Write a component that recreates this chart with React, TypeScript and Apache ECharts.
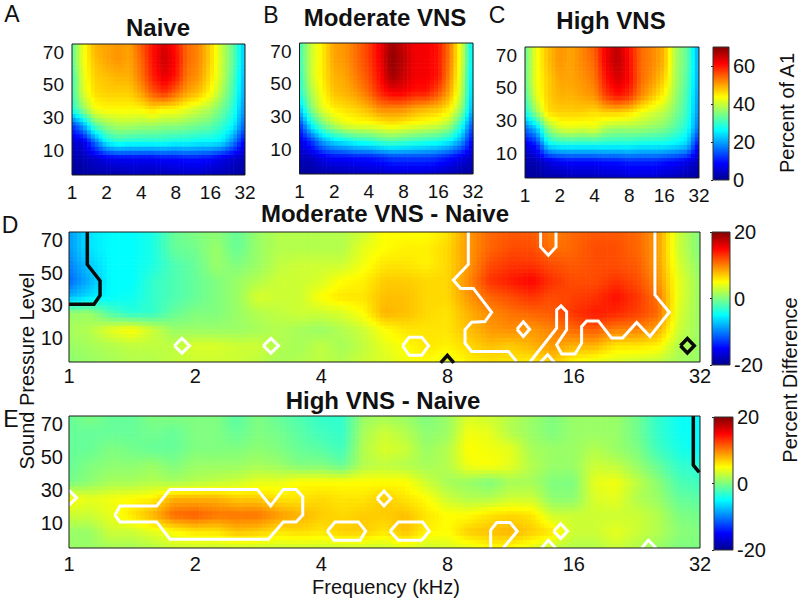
import React, { useEffect, useRef } from "react";
import * as echarts from "echarts";

const freqLabels = ["1", "2", "4", "8", "16", "32"];
const levelTicks = [10, 30, 50, 70];
const percentTicks = [0, 20, 40, 60];
const diffTicks = [-20, 0, 20];
const levels = [75, 65, 55, 45, 35, 25, 15, 5, -5];

const naive = [
  [32, 43, 49, 50, 51, 50, 55, 60, 64, 60, 54, 52, 47, 40, 33, 22],
  [32, 43, 48, 50, 51, 50, 54, 60, 65, 61, 54, 52, 47, 40, 33, 22],
  [30, 42, 47, 48, 49, 49, 53, 59, 63, 60, 53, 51, 46, 40, 32, 21],
  [30, 41, 46, 47, 47, 47, 50, 55, 58, 54, 50, 48, 44, 38, 31, 20],
  [28, 36, 43, 44, 44, 44, 44, 46, 44, 44, 42, 40, 38, 34, 29, 18],
  [12, 20, 32, 36, 38, 38, 37, 37, 36, 36, 35, 34, 33, 30, 26, 15],
  [5, 6, 16, 26, 29, 28, 28, 28, 28, 27, 27, 26, 26, 25, 18, 8],
  [2, 3, 5, 7, 8, 8, 8, 8, 9, 9, 10, 10, 9, 7, 5, 3],
  [1, 1, 2, 2, 2, 3, 3, 3, 3, 4, 4, 4, 3, 3, 2, 1],
];
const moderate = [
  [30, 40, 45, 50, 51, 54, 57, 62, 68, 65, 62, 62, 60, 53, 42, 24],
  [30, 40, 45, 50, 51, 54, 57, 62, 69, 66, 62, 62, 60, 53, 42, 24],
  [29, 40, 45, 49, 50, 53, 56, 61, 68, 65, 62, 62, 60, 52, 41, 23],
  [28, 38, 44, 48, 49, 51, 54, 59, 62, 62, 60, 60, 56, 50, 40, 22],
  [22, 35, 42, 45, 46, 47, 49, 52, 52, 52, 50, 49, 48, 45, 37, 20],
  [12, 26, 34, 39, 42, 43, 43, 44, 45, 44, 43, 42, 41, 38, 29, 14],
  [6, 12, 20, 24, 26, 28, 29, 31, 32, 31, 30, 29, 28, 26, 20, 8],
  [3, 4, 7, 9, 9, 10, 10, 11, 13, 13, 13, 13, 12, 10, 7, 4],
  [1, 1, 2, 2, 3, 3, 4, 4, 5, 5, 5, 5, 4, 3, 2, 1],
];
const high = [
  [33, 43, 48, 51, 50, 52, 55, 62, 66, 60, 54, 52, 49, 38, 33, 20],
  [33, 43, 48, 51, 50, 52, 54, 62, 66, 61, 54, 52, 49, 38, 33, 20],
  [33, 43, 47, 50, 50, 51, 53, 60, 64, 61, 54, 51, 47, 38, 32, 20],
  [31, 42, 47, 49, 49, 50, 51, 57, 60, 58, 52, 48, 44, 37, 31, 19],
  [27, 37, 46, 47, 47, 47, 46, 47, 47, 46, 43, 41, 39, 35, 30, 18],
  [16, 22, 36, 41, 42, 41, 42, 38, 37, 37, 37, 36, 35, 32, 28, 16],
  [6, 10, 25, 27, 27, 27, 27, 27, 27, 27, 26, 26, 26, 25, 23, 8],
  [2, 3, 6, 8, 9, 9, 9, 10, 10, 11, 11, 11, 10, 9, 7, 3],
  [1, 1, 2, 2, 3, 3, 3, 4, 4, 5, 5, 5, 4, 3, 2, 1],
];
const moderateDiff = [
  [-9, -6, -5, -5, -4, -1, 0, 0.5, -1, 1, 2, 2, 2, 2, 3, 5, 5, 5, 6, 9, 11, 11.5, 11.5, 10, 11, 11.5, 11.5, 11, 9, 3, 0],
  [-9, -6, -5, -5, -4, -1, -0.5, 1, -1, 1, 2, 2, 2, 2, 4, 5, 5.5, 5.5, 6.5, 9, 11, 12, 12, 10.5, 11, 12, 12, 11, 9, 3, 0],
  [-10, -7, -5, -5, -4, -2, -1, 1, 0, 1, 2.5, 3, 3, 3, 4.5, 6, 6, 5.5, 6.5, 9, 12, 13, 13, 12, 11.5, 12, 12, 11.5, 9, 3.5, 0.5],
  [-11, -8, -5, -5, -3, -2, -1, 0, 1, 2, 3, 3, 3.5, 5, 5.5, 7, 7, 6.5, 6.5, 9.5, 13, 14, 15, 13, 12, 12, 13, 12, 9.5, 4, 1],
  [-8, -6, -5, -4.5, -3, -2, -1, 0, 1, 3.5, 3, 3, 5, 6, 6, 7.5, 7.5, 6.5, 6.5, 9, 11, 12, 13, 12, 12.5, 13, 14.5, 13, 10.5, 4, 1],
  [1, 1, -2, -3.5, -3, -1, 0, 0, 1, 2, 2.5, 3, 3, 3.5, 5, 8, 7.5, 6.5, 6, 8, 9.5, 10.5, 11, 11.5, 13, 14, 13.5, 12.5, 11, 3.5, 1],
  [1.5, 2, 4, 5, 3, 1, 1, 1, 1, 1.5, 2, 1.5, 1, 2, 3, 5, 6, 6, 6, 7.5, 9, 9.5, 9, 10, 11, 11.5, 10, 10, 8.5, 3, 1],
  [1, 1.5, 2, 2.5, 2.5, 2.5, 3.5, 3.5, 3, 3, 2, 1.5, 2.5, 1.5, 2.5, 4, 5, 6, 5.5, 6.5, 7.5, 7, 8, 9, 8, 8, 6, 6, 5.5, 2, 1],
  [0.5, 1, 1.5, 2, 2, 2.5, 3, 3, 3, 2.5, 1.5, 2, 2.5, 2, 3, 3.5, 4.5, 5, 4, 5.5, 6, 6, 5.5, 7, 5, 4, 3.5, 3, 2.5, 1.5, 1],
];
const highDiff = [
  [-1, 0, -1, -1, 0, 0, 0, 0, -1.5, 0, -1, -2, -3, -3, 1, 1.5, 1, 0, 1, 3.5, 3, 2, 1, 0, 1, 1, 1, -0.5, -3, -4.5, -5],
  [-1, -1, -1, -1, -0.5, -1, 0, 0, -1, 0, -0.5, -1.5, -2.5, -3, 1.5, 3, 2, 0.5, 1, 4.5, 4, 2, 1, 0, 1, 1, 1, -0.5, -3, -4.5, -5],
  [-1, -1, 0, -0.5, -1, -1, 0, 0, 0, 0.5, 0, -1, -1.5, -2.5, 2, 3.5, 3, 1, 2, 5, 4.5, 4, 1.5, 1, 1, 2, 1, 0, -2.5, -4, -5],
  [-1, 0, 0.5, 0.5, 1, 0, 1, 1, 1, 1.5, 1, 0, 0, -1, 2, 2.5, 2, 1.5, 2, 4.5, 5, 4, 2, 1, 1, 3, 2.5, 1, -1, -3, -3.5],
  [-0.5, 0.5, 1.5, 1.5, 2, 1.5, 2, 2.5, 3, 4, 4, 5, 5, 5, 5, 5, 5, 3, 1.5, 1, 0, 1.5, 1.5, 0, 0, 4, 4.5, 2.5, 0.5, -2, -2.5],
  [5, 4, 4.5, 5, 5.5, 8, 8, 8, 7, 7, 6, 6, 6.5, 6, 6, 7, 6, 5, 3, 2, 2, 3, 3, 0.5, 0.5, 3.5, 4, 2, 1, -1, -1.5],
  [3, 3, 4, 6, 8, 11, 11.5, 10.5, 10.5, 10.5, 9, 8, 7, 6.5, 7, 7, 7.5, 6, 5, 5, 6, 6.5, 6, 3, 3, 3, 3, 3, 2, 0, -0.5],
  [1, 1, 3, 3, 4, 5, 6, 6, 7.5, 7, 6, 6.5, 6, 7, 7, 6, 7.5, 5.5, 5, 7, 7.5, 8, 7, 6, 3, 3, 4, 3, 2, 0.5, 0],
  [1, 1, 1.5, 1.5, 2, 3, 3, 3, 3, 3, 3, 3, 3, 3, 3, 3, 4, 3, 3.5, 4, 5, 5, 4, 2.5, 2, 2, 3, 2, 1, 0, 0],
];

type Pt = [number, number];
const dWhite: Pt[][] = [
  [[0.835, 5], [0.895, 9.5], [0.955, 5], [0.895, 0.5], [0.835, 5]],
  [[1.54, 5], [1.6, 9.5], [1.66, 5], [1.6, 0.5], [1.54, 5]],
  [[2.644, 5], [2.696, 10.3], [2.795, 10.3], [2.85, 5], [2.795, -0.9], [2.696, -0.9], [2.644, 5]],
  [[3.55, 15.2], [3.6, 19.7], [3.65, 15.2], [3.6, 10.7], [3.55, 15.2]],
  [[3.164, 75], [3.164, 55], [3.045, 45.4], [3.103, 40.3], [3.204, 40.3], [3.349, 25.6], [3.296, 19.9], [3.19, 19.5], [3.138, 14.8], [3.138, 6.6], [3.19, 1.5], [3.481, 1.5], [3.547, -4.6], [3.547, -5]],
  [[3.653, -5], [3.653, -4.6], [3.864, 15.8], [3.864, 27], [3.899, 29.5], [3.943, 26], [3.943, 14.8], [3.864, 5.6], [3.904, -0.1], [4.01, -0.1], [4.062, 6.6], [4.062, 16.8], [4.102, 20.3], [4.194, 20.3], [4.3, 9.7], [4.387, 9.7], [4.498, 19.3], [4.604, 10.7], [4.757, 25.6], [4.643, 36.2], [4.643, 75]],
  [[3.737, 75], [3.737, 65.8], [3.798, 60.7], [3.859, 65.8], [3.859, 75]],
  [[3.732, -5.6], [3.793, -0.5], [3.851, -5.6]],
];
const dBlack: Pt[][] = [
  [[0.145, 75], [0.145, 55], [0.246, 45], [0.246, 36], [0.198, 30.5], [0, 30.5]],
  [[2.945, -5.6], [2.998, -0.9], [3.05, -5.6]],
  [[4.845, 5], [4.9, 9.5], [4.955, 5], [4.9, 0.5], [4.845, 5]],
];
const eWhite: Pt[][] = [
  [[0.364, 14.9], [0.404, 20.5], [0.695, 20.5], [0.8, 30.5], [1.492, 30.5], [1.598, 20.5], [1.698, 30.5], [1.799, 30.5], [1.852, 26], [1.852, 14.9], [1.799, 10.8], [1.698, 10.8], [1.58, 0.3], [0.8, 0.3], [0.695, 10.8], [0.404, 10.8], [0.364, 14.9]],
  [[0, 30], [0.06, 25.4], [0, 21]],
  [[2.047, 5.2], [2.108, 10.8], [2.293, 10.8], [2.351, 5.2], [2.306, -0.3], [2.1, -0.3], [2.047, 5.2]],
  [[2.441, 25], [2.496, 29.5], [2.551, 25], [2.496, 20.5], [2.441, 25]],
  [[2.544, 5.2], [2.61, 10.8], [2.802, 10.8], [2.855, 5.2], [2.795, -0.3], [2.61, -0.3], [2.544, 5.2]],
  [[3.341, -5], [3.341, 5.8], [3.389, 10.4], [3.495, 10.4], [3.552, 5.2], [3.441, -5]],
  [[3.841, 5.2], [3.896, 9.7], [3.951, 5.2], [3.896, 0.7], [3.841, 5.2]],
  [[3.745, -5], [3.798, -0.3], [3.856, -5]],
  [[4.538, -5], [4.591, -0.3], [4.652, -5]],
];
const eBlack: Pt[][] = [[[4.947, 75], [4.947, 45.2], [4.994, 40.8]]];

const jetStops: [number, number[]][] = [
  [0, [0, 0, 143]],
  [0.125, [0, 0, 255]],
  [0.375, [0, 255, 255]],
  [0.625, [255, 255, 0]],
  [0.875, [255, 0, 0]],
  [1, [128, 0, 0]],
];
const rgb = (c: number[]) => `rgb(${c.map((v) => Math.round(v)).join(",")})`;
function jet(t: number) {
  const u = Math.max(0, Math.min(1, t));
  for (let i = 1; i < jetStops.length; i++) {
    if (u <= jetStops[i][0]) {
      const [a, ca] = jetStops[i - 1];
      const [b, cb] = jetStops[i];
      const f = (u - a) / (b - a);
      return rgb(ca.map((v, k) => v + (cb[k] - v) * f));
    }
  }
  return rgb([128, 0, 0]);
}

const FONT = "Liberation Sans, Arial, sans-serif";

const grids = [
  { left: 72, top: 44, width: 173, height: 131 },
  { left: 299.5, top: 43, width: 173.5, height: 131 },
  { left: 525, top: 47, width: 174, height: 131 },
  { left: 69, top: 232, width: 631, height: 130 },
  { left: 69, top: 416, width: 631, height: 132 },
  { left: 713, top: 47, width: 16, height: 133 },
  { left: 712, top: 232, width: 18, height: 133 },
  { left: 714, top: 417, width: 19, height: 133 },
];

const panels = [
  { m: naive, lo: 0, hi: 70, step: 1 / 3, cell: 4.3, font: 19, mx: 7.5, my: 8, white: [] as Pt[][], black: [] as Pt[][] },
  { m: moderate, lo: 0, hi: 70, step: 1 / 3, cell: 4.3, font: 19, mx: 7.5, my: 8, white: [], black: [] },
  { m: high, lo: 0, hi: 70, step: 1 / 3, cell: 4.3, font: 19, mx: 7.5, my: 8, white: [], black: [] },
  { m: moderateDiff, lo: -20, hi: 20, step: 1 / 6, cell: 4.2, font: 20, mx: 4, my: 6, white: dWhite, black: dBlack },
  { m: highDiff, lo: -20, hi: 20, step: 1 / 6, cell: 4.2, font: 20, mx: 6, my: 6, white: eWhite, black: eBlack },
];
const bars = [
  { lo: 0, hi: 70, ticks: percentTicks },
  { lo: -20, hi: 20, ticks: diffTicks },
  { lo: -20, hi: 20, ticks: diffTicks },
];

function buildOption() {
  const xAxis: any[] = [];
  const yAxis: any[] = [];
  const series: any[] = [];
  const labelStyle = { color: "#111", fontFamily: FONT };

  panels.forEach((p, idx) => {
    xAxis.push({
      type: "value", gridIndex: idx, min: 0, max: 5, interval: 1,
      axisLine: { show: false }, axisTick: { show: false }, splitLine: { show: false },
      axisLabel: { ...labelStyle, fontSize: p.font, margin: p.mx, formatter: (v: number) => freqLabels[Math.round(v)], showMinLabel: true, showMaxLabel: true },
    });
    yAxis.push({
      type: "value", gridIndex: idx, min: -5, max: 75,
      axisLine: { show: false }, axisTick: { show: false }, splitLine: { show: false },
      axisLabel: { ...labelStyle, fontSize: p.font, margin: p.my, customValues: levelTicks },
    });
    const cells: number[][] = [];
    for (let r = 0; r < levels.length - 1; r++) {
      for (let c = 0; c < p.m[0].length - 1; c++) {
        cells.push([c * p.step, levels[r + 1], (c + 1) * p.step, levels[r], p.m[r + 1][c], p.m[r + 1][c + 1], p.m[r][c], p.m[r][c + 1]]);
      }
    }
    series.push({
      type: "custom", xAxisIndex: idx, yAxisIndex: idx, silent: true, clip: true, z: 1,
      encode: { x: [0, 2], y: [1, 3] },
      data: cells,
      renderItem: (_: any, api: any) => {
        const a = api.coord([api.value(0), api.value(1)]);
        const b = api.coord([api.value(2), api.value(3)]);
        const v00 = api.value(4), v10 = api.value(5), v01 = api.value(6), v11 = api.value(7);
        const w = b[0] - a[0], h = a[1] - b[1];
        const nx = Math.max(1, Math.round(w / p.cell));
        const ny = Math.max(1, Math.round(h / p.cell));
        const children: any[] = [];
        for (let i = 0; i < nx; i++) {
          for (let j = 0; j < ny; j++) {
            const fx = (i + 0.5) / nx, fy = (j + 0.5) / ny;
            const v = (v00 * (1 - fx) + v10 * fx) * (1 - fy) + (v01 * (1 - fx) + v11 * fx) * fy;
            children.push({
              type: "rect",
              shape: { x: a[0] + (i * w) / nx - 0.3, y: a[1] - ((j + 1) * h) / ny - 0.3, width: w / nx + 0.6, height: h / ny + 0.6 },
              style: { fill: jet((v - p.lo) / (p.hi - p.lo)) },
            });
          }
        }
        return { type: "group", children };
      },
    });
    const addLines = (list: Pt[][], color: string, width: number) =>
      list.forEach((pts) =>
        series.push({
          type: "line", xAxisIndex: idx, yAxisIndex: idx, data: pts, showSymbol: false, silent: true, clip: true, z: 3,
          lineStyle: { color, width, join: "miter" },
        })
      );
    addLines(p.white, "#ffffff", 3);
    addLines(p.black, "#0a0a0a", 3.5);
    series.push({
      type: "line", xAxisIndex: idx, yAxisIndex: idx, showSymbol: false, silent: true, clip: false, z: 4,
      data: [[0, -5], [5, -5], [5, 75], [0, 75], [0, -5]],
      lineStyle: { color: "#1a1a1a", width: 1 },
    });
  });

  bars.forEach((b, k) => {
    const idx = panels.length + k;
    xAxis.push({ type: "value", gridIndex: idx, min: 0, max: 1, show: false });
    yAxis.push({
      type: "value", gridIndex: idx, min: b.lo, max: b.hi, position: "right",
      axisLine: { show: false }, splitLine: { show: false },
      axisTick: { show: true, inside: true, length: 2, lineStyle: { color: "#222" }, customValues: b.ticks },
      axisLabel: { ...labelStyle, fontSize: 20, margin: 4, customValues: b.ticks },
    });
    series.push({
      type: "custom", xAxisIndex: idx, yAxisIndex: idx, silent: true, z: 1,
      encode: { x: [0, 2], y: [1, 3] },
      data: [[0, b.lo, 1, b.hi]],
      renderItem: (_: any, api: any) => {
        const p0 = api.coord([api.value(0), api.value(1)]);
        const p1 = api.coord([api.value(2), api.value(3)]);
        return {
          type: "rect",
          shape: { x: p0[0], y: p1[1], width: p1[0] - p0[0], height: p0[1] - p1[1] },
          style: {
            fill: new echarts.graphic.LinearGradient(0, 1, 0, 0, jetStops.map(([offset, c]) => ({ offset, color: rgb(c) }))),
            stroke: "#333", lineWidth: 1,
          },
        };
      },
    });
  });

  const text = (t: string, x: number, y: number, size: number, bold = false, rotation = 0) => ({
    type: "text", x, y, rotation, silent: true,
    style: { text: t, fontSize: size, fontFamily: FONT, fontWeight: bold ? "bold" : "normal", fill: "#111", align: "center", verticalAlign: "middle" },
  });

  return {
    animation: false,
    backgroundColor: "#ffffff",
    grid: grids.map((g) => ({ ...g, containLabel: false })),
    xAxis, yAxis, series,
    graphic: [
      text("A", 12, 14, 23), text("B", 271, 15, 23), text("C", 497, 15, 23), text("D", 10, 225, 23), text("E", 11, 419, 23),
      text("Naive", 158, 27, 24, true), text("Moderate VNS", 385, 17, 24, true), text("High VNS", 611, 20, 24, true),
      text("Moderate VNS - Naive", 385, 213, 24, true), text("High VNS - Naive", 383, 400, 24, true),
      text("Frequency (kHz)", 386, 587, 20),
      text("Sound Pressure Level", 27, 371, 20, false, Math.PI / 2),
      text("Percent of A1", 787, 113, 20, false, Math.PI / 2),
      text("Percent Difference", 790, 380, 20, false, Math.PI / 2),
    ],
  };
}

export default function App() {
  const ref = useRef<HTMLDivElement>(null);
  useEffect(() => {
    document.body.style.margin = "0";
    const chart = echarts.init(ref.current!, undefined, { renderer: "svg" });
    chart.setOption(buildOption() as any);
    return () => chart.dispose();
  }, []);
  return <div ref={ref} style={{ position: "absolute", left: 0, top: 0, width: 800, height: 602 }} />;
}
